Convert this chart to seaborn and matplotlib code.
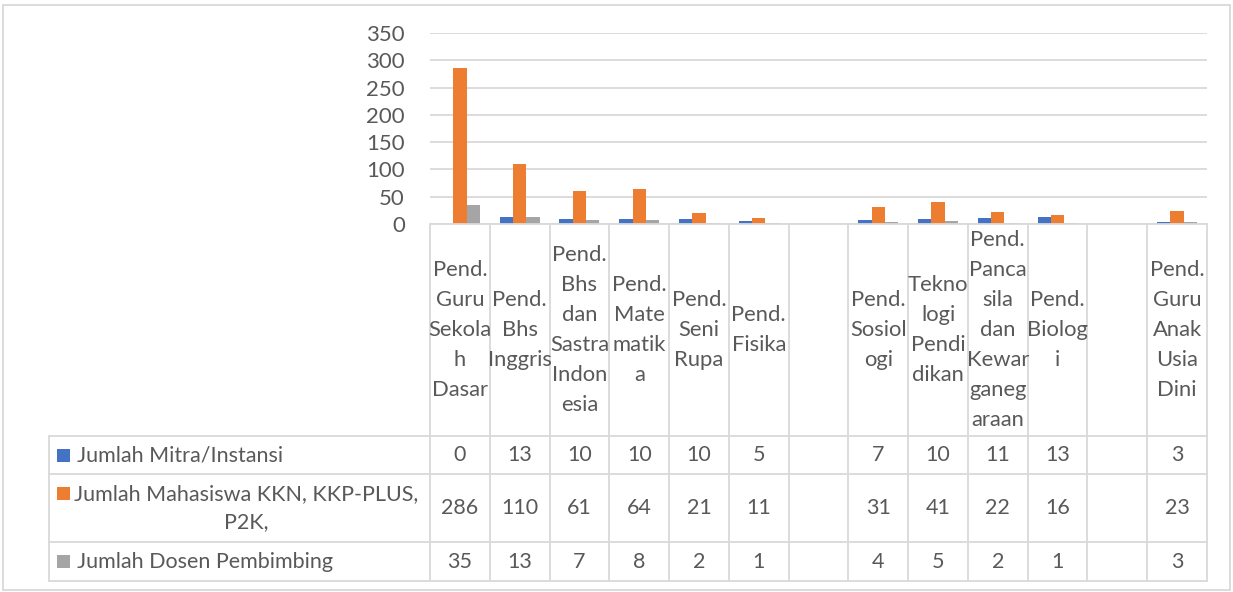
import numpy as np
import pandas as pd
import matplotlib
matplotlib.use("Agg")
import matplotlib.pyplot as plt
from matplotlib.lines import Line2D
from matplotlib.patches import Rectangle
import seaborn as sns

# ---- data ----
categories = [
    "Pend.\nGuru\nSekola\nh\nDasar",
    "Pend.\nBhs\nInggris",
    "Pend.\nBhs\ndan\nSastra\nIndon\nesia",
    "Pend.\nMate\nmatik\na",
    "Pend.\nSeni\nRupa",
    "Pend.\nFisika",
    "",
    "Pend.\nSosiol\nogi",
    "Tekno\nlogi\nPendi\ndikan",
    "Pend.\nPanca\nsila\ndan\nKewar\nganeg\naraan",
    "Pend.\nBiolog\ni",
    "",
    "Pend.\nGuru\nAnak\nUsia\nDini",
]
series_names = ["Jumlah Mitra/Instansi",
                "Jumlah Mahasiswa KKN, KKP-PLUS,\nP2K,",
                "Jumlah Dosen Pembimbing"]
mitra = [0, 13, 10, 10, 10, 5, None, 7, 10, 11, 13, None, 3]
mahasiswa = [286, 110, 61, 64, 21, 11, None, 31, 41, 22, 16, None, 23]
dosen = [35, 13, 7, 8, 2, 1, None, 4, 5, 2, 1, None, 3]
yticks = [0, 50, 100, 150, 200, 250, 300, 350]

colors = ["#4472C4", "#ED7D31", "#A5A5A5"]
text_color = "#595959"
line_color = "#D9D9D9"

sns.set_theme(style="white")
plt.rcParams["font.family"] = ["Lato", "DejaVu Sans"]

rows = []
for i in range(len(categories)):
    for name, vals in zip(series_names, [mitra, mahasiswa, dosen]):
        v = vals[i]
        rows.append({"idx": i, "series": name, "value": np.nan if v is None else v})
df = pd.DataFrame(rows)

W, H = 1233, 592
fig = plt.figure(figsize=(W / 100, H / 100), dpi=100)

ax_l, ax_r, ax_t, ax_b = 430, 1207, 33, 224
ax = fig.add_axes([ax_l / W, 1 - ax_b / H, (ax_r - ax_l) / W, (ax_b - ax_t) / H])

sns.barplot(data=df, x="idx", y="value", hue="series", order=list(range(len(categories))),
            hue_order=series_names, palette=colors, width=0.667, gap=0,
            ax=ax, legend=False, saturation=1, linewidth=0)

ax.set_ylim(0, 350)
ax.set_xlim(-0.5, len(categories) - 0.5)
ax.set_yticks(yticks)
ax.set_yticklabels([str(t) for t in yticks], fontsize=16, color=text_color)
ax.tick_params(axis="y", length=0, pad=18)
ax.set_xticks([])
ax.set_xlabel("")
ax.set_ylabel("")
for s in ax.spines.values():
    s.set_visible(False)
ax.yaxis.grid(True, color=line_color, linewidth=1.3)
ax.set_axisbelow(True)

def fx(x):
    return x / W

def fy(y):
    return 1 - y / H

def hline(x0, x1, y, lw=1.3):
    fig.add_artist(Line2D([fx(x0), fx(x1)], [fy(y), fy(y)], color=line_color, lw=lw,
                          transform=fig.transFigure))

def vline(x, y0, y1, lw=1.3):
    fig.add_artist(Line2D([fx(x), fx(x)], [fy(y0), fy(y1)], color=line_color, lw=lw,
                          transform=fig.transFigure))

# chart area border
fig.add_artist(Rectangle((fx(3), fy(590)), fx(1230) - fx(3), fy(5) - fy(590),
                         fill=False, edgecolor=line_color, lw=1.3, transform=fig.transFigure))

# data table
n = len(categories)
colw = (ax_r - ax_l) / n
tbl_left = 49
row_y = [224, 436, 474, 542, 581]

hline(ax_l, ax_r, row_y[0])
for y in row_y[1:]:
    hline(tbl_left, ax_r, y)
vline(tbl_left, row_y[1], row_y[4])
for i in range(n + 1):
    vline(ax_l + i * colw, row_y[0], row_y[4])

fs_head = 15.8
fs = 15.5
for i, lab in enumerate(categories):
    cx = ax_l + (i + 0.5) * colw
    fig.text(fx(cx), fy((row_y[0] + row_y[1]) / 2), lab, ha="center", va="center",
             multialignment="center", fontsize=fs_head, color=text_color, linespacing=1.62)

for r, (name, vals, col) in enumerate(zip(series_names, [mitra, mahasiswa, dosen], colors)):
    cy = (row_y[r + 1] + row_y[r + 2]) / 2
    key_y = cy - 15 if "\n" in name else cy
    fig.add_artist(Rectangle((fx(57), fy(key_y + 6.5)), fx(13), 13 / H, facecolor=col,
                             edgecolor="none", transform=fig.transFigure))
    if "\n" in name:
        fig.text(fx(246), fy(cy), name, ha="center", va="center", multialignment="center",
                 fontsize=fs, color=text_color, linespacing=1.55)
    else:
        fig.text(fx(77), fy(cy), name, ha="left", va="center", fontsize=fs, color=text_color)
    for i, v in enumerate(vals):
        if v is None:
            continue
        cx = ax_l + (i + 0.5) * colw
        fig.text(fx(cx), fy(cy), str(v), ha="center", va="center", fontsize=fs, color=text_color)

fig.savefig("out.png", dpi=100, facecolor="white")
